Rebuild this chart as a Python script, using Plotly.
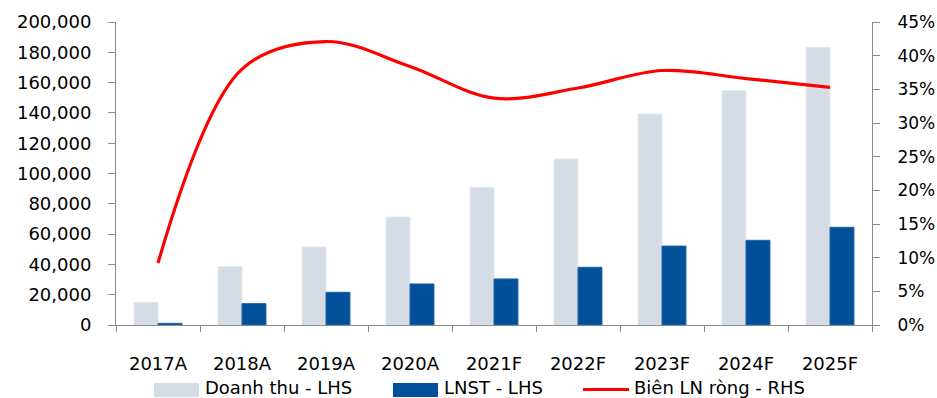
import plotly.graph_objects as go

categories = ["2017A", "2018A", "2019A", "2020A", "2021F", "2022F", "2023F", "2024F", "2025F"]
revenue = [15000, 38500, 51500, 71300, 90900, 109600, 139300, 154700, 183300]
net_profit = [1100, 14100, 21600, 27100, 30400, 38100, 52100, 55900, 64500]
net_margin = [0.092, 0.380, 0.421, 0.384, 0.337, 0.352, 0.378, 0.366, 0.353]

left_ticks = [0, 20000, 40000, 60000, 80000, 100000, 120000, 140000, 160000, 180000, 200000]
right_ticks = [0, 0.05, 0.10, 0.15, 0.20, 0.25, 0.30, 0.35, 0.40, 0.45]

legend_names = ["Doanh thu - LHS", "LNST - LHS", "Biên LN ròng - RHS"]

FONT = "DejaVu Sans"
AXIS_COLOR = "#8C8C8C"
C_REV = "#D6DCE5"
C_NP = "#00509A"
C_LINE = "#FF0000"

fig = go.Figure()
fig.add_trace(go.Bar(x=categories, y=revenue, name=legend_names[0],
                     marker=dict(color=C_REV, line=dict(color="#E4E8EE", width=1))))
fig.add_trace(go.Bar(x=categories, y=net_profit, name=legend_names[1],
                     marker=dict(color=C_NP, line=dict(color="#1E63A6", width=1))))
fig.add_trace(go.Scatter(x=categories, y=net_margin, name=legend_names[2], yaxis="y2",
                         mode="lines", line=dict(color=C_LINE, width=3.2, shape="spline", smoothing=1.0)))

# plot area: x 116..872 px, y 22..325 px
def px_x(px):
    return (px - 116) / 756.0

def px_y(py):
    return (325 - py) / 303.0

shapes = [
    dict(type="rect", xref="paper", yref="paper", x0=px_x(154), x1=px_x(199), y0=px_y(397), y1=px_y(383),
         fillcolor=C_REV, line=dict(width=0)),
    dict(type="rect", xref="paper", yref="paper", x0=px_x(393), x1=px_x(438), y0=px_y(397), y1=px_y(383),
         fillcolor=C_NP, line=dict(width=0)),
    dict(type="line", xref="paper", yref="paper", x0=px_x(583), x1=px_x(629), y0=px_y(389.5), y1=px_y(389.5),
         line=dict(color=C_LINE, width=3)),
]
annotations = []
for name, tx in zip(legend_names, [203, 442, 632]):
    annotations.append(dict(text=name, xref="paper", yref="paper", x=px_x(tx), y=px_y(387),
                            xanchor="left", yanchor="middle", showarrow=False,
                            font=dict(family=FONT, size=18, color="#000000")))

fig.update_layout(
    width=937, height=398,
    margin=dict(l=116, r=65, t=22, b=73, autoexpand=False),
    paper_bgcolor="white", plot_bgcolor="white",
    font=dict(family=FONT, size=18, color="#000000"),
    barmode="group", bargap=0.43, bargroupgap=0,
    showlegend=False,
    shapes=shapes, annotations=annotations,
    xaxis=dict(showgrid=False, showline=True, linecolor=AXIS_COLOR, linewidth=1, automargin=False,
               ticks="outside", tickson="boundaries", ticklen=6, tickcolor=AXIS_COLOR,
               ticklabelstandoff=22, tickfont=dict(family=FONT, size=18, color="#000000")),
    yaxis=dict(range=[0, 200000], tickvals=left_ticks, tickformat=",.0f", automargin=False,
               showgrid=False, zeroline=False, showline=True, linecolor=AXIS_COLOR, linewidth=1,
               ticks="outside", ticklen=7, tickcolor=AXIS_COLOR, ticklabelstandoff=13,
               tickfont=dict(family=FONT, size=18, color="#000000")),
    yaxis2=dict(range=[0, 0.45], tickvals=right_ticks, tickformat=".0%", overlaying="y", side="right",
                automargin=False,
                showgrid=False, zeroline=False, showline=True, linecolor=AXIS_COLOR, linewidth=1,
                ticks="outside", ticklen=7, tickcolor=AXIS_COLOR, ticklabelstandoff=14,
                tickfont=dict(family=FONT, size=17, color="#000000")),
)

fig.write_html("out.html")
